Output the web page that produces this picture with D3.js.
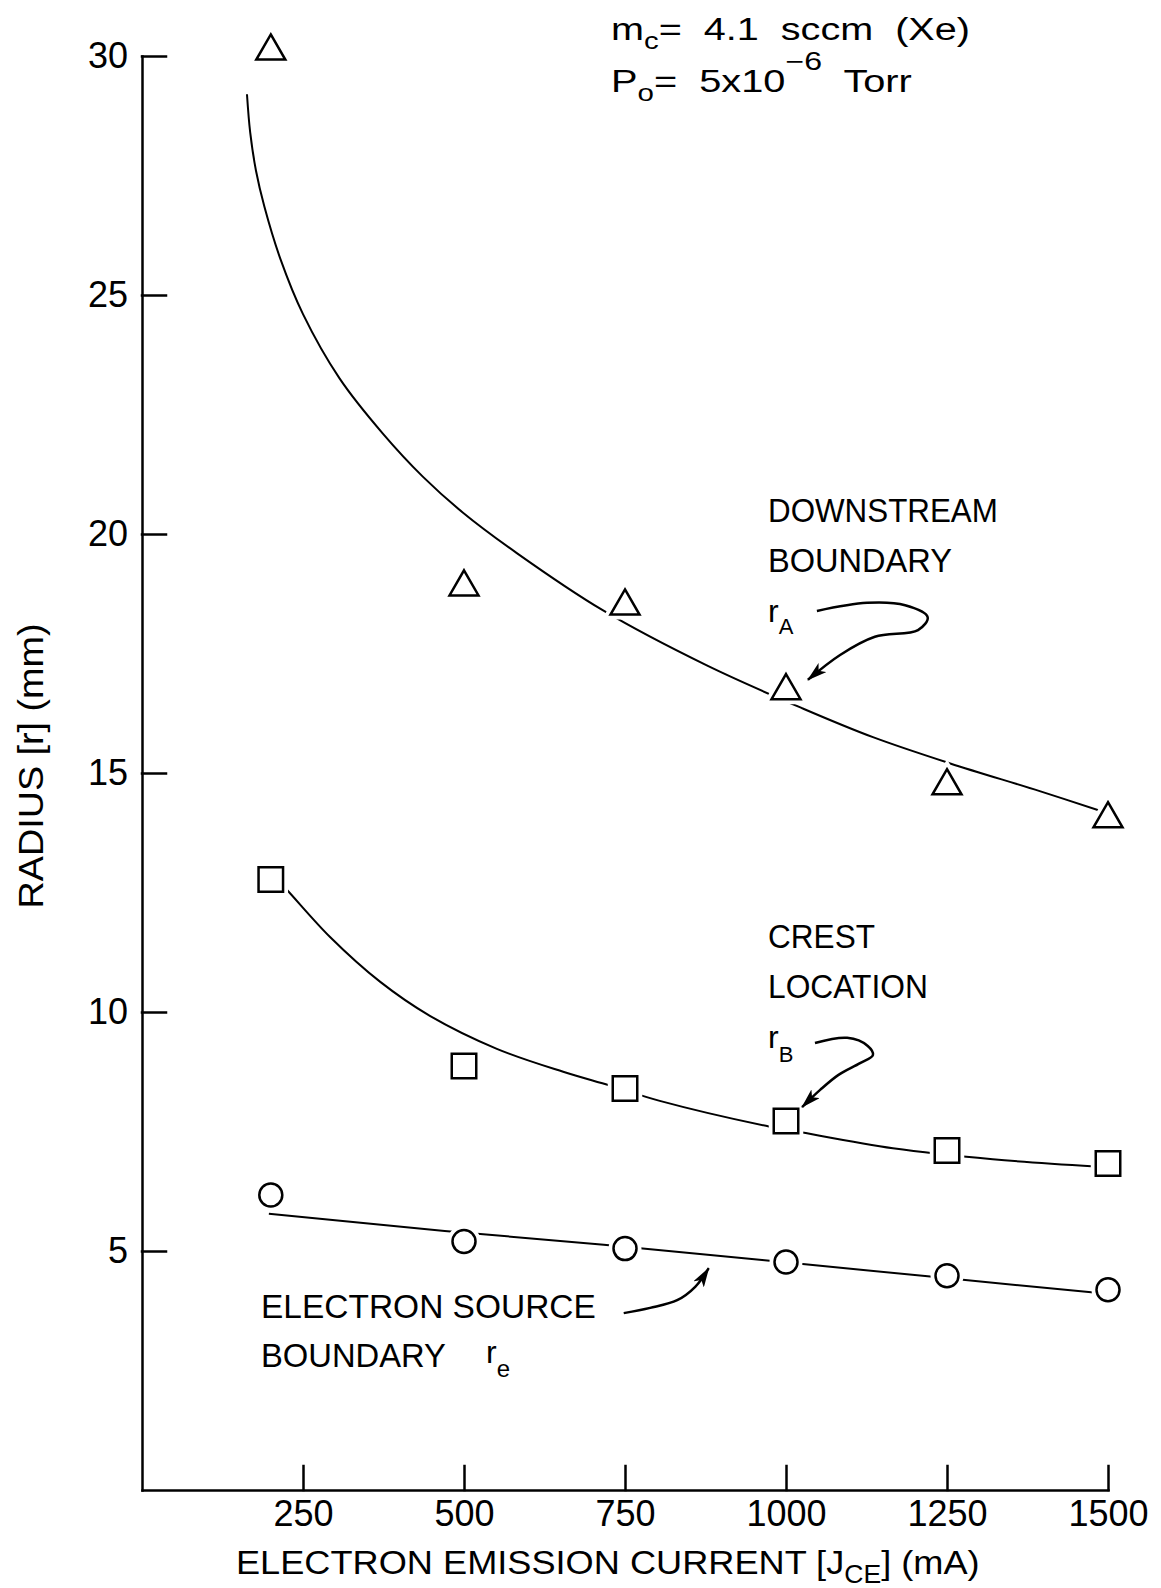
<!DOCTYPE html>
<html>
<head>
<meta charset="utf-8">
<style>
  body { margin: 0; background: #fff; }
  svg { display: block; font-family: 'Liberation Sans', Arial, sans-serif; }
  text { white-space: pre; }
  .axis path, .axis line { stroke: #000; stroke-width: 2.5px; stroke-linecap: square; }
  .axis text { fill: #000; }
  .fit { fill: none; stroke: #000; stroke-width: 2px; }
  .halo { fill: #fff; stroke: #fff; stroke-width: 10px; }
  .mark { fill: #fff; stroke: #000; stroke-width: 2.5px; }
  .note { fill: none; stroke: #000; stroke-width: 2.5px; }
</style>
</head>
<body>
<div id="chart"></div>
<script src="https://cdn.jsdelivr.net/npm/d3@7"></script>
<script>
// measured values (mm) at each emission current (mA)
var current = [200, 500, 750, 1000, 1250, 1500];
var downstream = [30.1, 18.89, 18.49, 16.72, 14.73, 14.04];   // r_A, triangles
var crest = [12.77, 8.87, 8.40, 7.72, 7.10, 6.83];            // r_B, squares
var source = [6.17, 5.20, 5.05, 4.77, 4.48, 4.19];            // r_e, circles

// fitted curves
var downstreamFitX = [163, 168, 177, 190, 215, 250, 307, 374, 436, 498, 582, 716, 877, 1026, 1135, 1255, 1394, 1490];
var downstreamFitY = [29.2, 28.4, 27.6, 26.85, 25.75, 24.6, 23.25, 22.1, 21.2, 20.45, 19.6, 18.4, 17.25, 16.35, 15.75, 15.2, 14.62, 14.2];
var crestFitX = [200, 222, 292, 370, 447, 551, 654, 727, 804, 975, 1017, 1166, 1321, 1480];
var crestFitY = [12.9, 12.6, 11.57, 10.63, 9.92, 9.23, 8.75, 8.46, 8.14, 7.6, 7.5, 7.15, 6.92, 6.77];
var sourceFitX = [197, 470, 717, 963, 1220, 1478];
var sourceFitY = [5.78, 5.42, 5.13, 4.81, 4.47, 4.13];

var xTicks = [250, 500, 750, 1000, 1250, 1500];
var yTicks = [5, 10, 15, 20, 25, 30];

// hand drawn pointer arrows, in data units
var arrowA = [[1048, 18.39], [1126, 18.56], [1185, 18.51], [1220, 18.26], [1205, 17.99], [1138, 17.85], [1084, 17.47], [1034, 16.95]];
var arrowB = [[1045, 9.35], [1095, 9.46], [1127, 9.29], [1135, 9.10], [1115, 8.93], [1081, 8.68], [1053, 8.37], [1025, 8.01]];
var arrowE = [[748, 3.70], [789, 3.81], [831, 3.97], [859, 4.25], [880, 4.64]];

var width = 1161, height = 1588;

var x = d3.scaleLinear().domain([0, 1500]).range([142, 1108]);
var y = d3.scaleLinear().domain([0, 30]).range([1490, 56]);

var svg = d3.select('#chart').append('svg')
  .attr('width', width)
  .attr('height', height);

svg.append('rect').attr('width', width).attr('height', height).attr('fill', '#fff');

var defs = svg.append('defs');
defs.append('marker')
  .attr('id', 'head')
  .attr('viewBox', '0 -6 20 12')
  .attr('refX', 19)
  .attr('refY', 0)
  .attr('markerWidth', 20)
  .attr('markerHeight', 12)
  .attr('markerUnits', 'userSpaceOnUse')
  .attr('orient', 'auto')
  .append('path')
  .attr('d', 'M0,-6L20,0L0,6L5,0Z')
  .attr('fill', '#000');

// axes
svg.append('g')
  .attr('class', 'axis')
  .attr('transform', 'translate(0,' + y(0) + ')')
  .call(d3.axisBottom(x).tickValues(xTicks).tickFormat(d3.format('d'))
    .tickSize(-24).tickSizeOuter(0).tickPadding(10))
  .attr('font-size', 36)
  .attr('font-family', null);

svg.append('g')
  .attr('class', 'axis')
  .attr('transform', 'translate(' + x(0) + ',0)')
  .call(d3.axisLeft(y).tickValues(yTicks).tickSize(-24).tickSizeOuter(0).tickPadding(14))
  .attr('font-size', 36)
  .attr('font-family', null);

// text block, optionally squeezed/stretched to the width it has in the figure
function label(parts, x0, y0, size, w, rot) {
  var t = 'translate(' + x0 + ',' + y0 + ')' + (rot ? ' rotate(' + rot + ')' : '');
  var g = svg.append('g').attr('transform', t);
  var txt = g.append('text').attr('font-size', size).attr('fill', '#000');
  if (rot) txt.attr('text-anchor', 'middle');
  parts.forEach(function(p) {
    txt.append('tspan')
      .attr('dy', p.dy || 0)
      .attr('font-size', p.size || size)
      .text(p.t);
  });
  if (w) {
    var s = w / txt.node().getBBox().width;
    g.attr('transform', t + ' scale(' + s + ',1)');
  }
  return g;
}

// axis titles
label([{t: 'ELECTRON EMISSION CURRENT [J'}, {t: 'CE', size: 25, dy: 9}, {t: '] (mA)', dy: -9}], 236, 1574, 34, 744);
label([{t: 'RADIUS [r] (mm)'}], 43, 766, 35, 285, -90);

// fitted lines
var line = d3.line()
  .x(function(d) { return x(d[0]); })
  .y(function(d) { return y(d[1]); });

function zip(a, b) { return a.map(function(v, i) { return [v, b[i]]; }); }

svg.append('path').attr('class', 'fit')
  .attr('d', line.curve(d3.curveCatmullRom.alpha(0.5))(zip(downstreamFitX, downstreamFitY)));
svg.append('path').attr('class', 'fit')
  .attr('d', line.curve(d3.curveCatmullRom.alpha(0.5))(zip(crestFitX, crestFitY)));
svg.append('path').attr('class', 'fit')
  .attr('d', line.curve(d3.curveLinear)(zip(sourceFitX, sourceFitY)));

// markers
var series = [
  {values: downstream, shape: d3.symbolTriangle, size: 364},
  {values: crest, shape: d3.symbolSquare, size: 600},
  {values: source, shape: d3.symbolCircle, size: Math.PI * 11.5 * 11.5}
];

series.forEach(function(s) {
  var pts = zip(current, s.values);
  var sym = d3.symbol(s.shape, s.size);
  ['halo', 'mark'].forEach(function(cls) {
    svg.append('g').selectAll('path')
      .data(pts)
      .enter().append('path')
      .attr('class', cls)
      .attr('transform', function(d) { return 'translate(' + x(d[0]) + ',' + y(d[1]) + ')'; })
      .attr('d', sym);
  });
});

// conditions, top right
label([{t: 'm'}, {t: 'c', size: 23, dy: 9}, {t: '=  4.1  sccm  (Xe)', dy: -9}], 611, 40, 31, 359);
label([{t: 'P'}, {t: 'o', size: 23, dy: 9}, {t: '=  5x10', dy: -9}, {t: '\u22126', size: 25, dy: -22}, {t: '  Torr', dy: 22}], 611, 92, 31, 301);

// series labels
label([{t: 'DOWNSTREAM'}], 768, 522, 34, 230);
label([{t: 'BOUNDARY'}], 768, 572, 34, 184);
label([{t: 'r'}, {t: 'A', size: 22, dy: 12}], 768, 622, 32);

label([{t: 'CREST'}], 768, 948, 34, 107);
label([{t: 'LOCATION'}], 768, 998, 34, 160);
label([{t: 'r'}, {t: 'B', size: 22, dy: 14}], 768, 1048, 32);

label([{t: 'ELECTRON SOURCE'}], 261, 1318, 34, 335);
label([{t: 'BOUNDARY'}], 261, 1367, 34, 185);
label([{t: 'r'}, {t: 'e', size: 24, dy: 14}], 486, 1363, 32);

var arrowLine = d3.line()
  .x(function(d) { return x(d[0]); })
  .y(function(d) { return y(d[1]); })
  .curve(d3.curveCatmullRom);

[arrowA, arrowB, arrowE].forEach(function(a) {
  svg.append('path')
    .attr('class', 'note')
    .attr('d', arrowLine(a))
    .attr('marker-end', 'url(#head)');
});
</script>
</body>
</html>
